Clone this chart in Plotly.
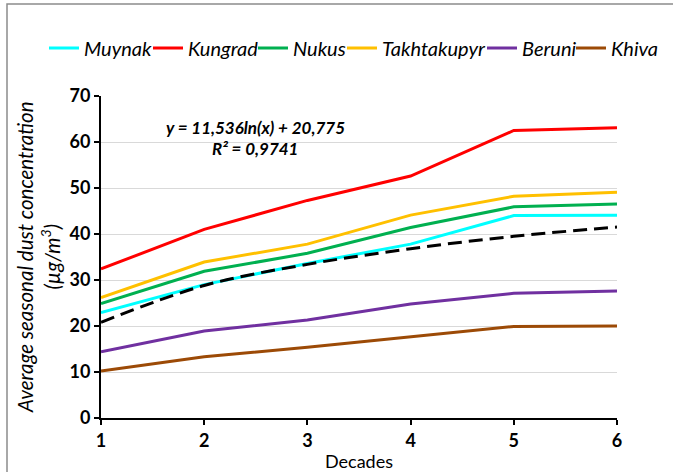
import plotly.graph_objects as go

decades = [1, 2, 3, 4, 5, 6]
muynak = [22.9, 29.0, 33.6, 37.8, 44.0, 44.1]
kungrad = [32.4, 41.0, 47.3, 52.6, 62.5, 63.1]
nukus = [24.9, 31.9, 35.8, 41.4, 45.9, 46.5]
takhtakupyr = [26.2, 33.9, 37.8, 44.1, 48.2, 49.1]
beruni = [14.4, 18.9, 21.3, 24.8, 27.1, 27.6]
khiva = [10.2, 13.3, 15.4, 17.7, 19.9, 20.0]
trend = [20.8, 28.8, 33.4, 36.8, 39.5, 41.5]
y_ticks = [0, 10, 20, 30, 40, 50, 60, 70]

series = [
    ("Muynak", muynak, "#00ffff"),
    ("Kungrad", kungrad, "#ff0000"),
    ("Nukus", nukus, "#00b050"),
    ("Takhtakupyr", takhtakupyr, "#ffc000"),
    ("Beruni", beruni, "#7030a0"),
    ("Khiva", khiva, "#9c4a06"),
]
# pixel x where each legend swatch starts in the reference
legend_px = [54, 158, 263, 352, 492, 581]

FONT = "Lato"
L, R, T, B = 101, 56, 96, 54
W, H = 673, 472
pw, ph = W - L - R, H - T - B

def px_x(p):
    return (p - L) / pw

def px_y(p):
    return (H - B - p) / ph

legend_style = dict(orientation="h", xanchor="left", yanchor="middle",
                    font=dict(family=FONT, size=20, style="italic", color="black"),
                    itemwidth=30, tracegroupgap=0, bgcolor="rgba(0,0,0,0)")

fig = go.Figure()
legends = {}
for i, (name, vals, col) in enumerate(series):
    key = "legend" if i == 0 else f"legend{i + 1}"
    fig.add_trace(go.Scatter(x=decades, y=vals, name=name, mode="lines", legend=key,
                             line=dict(color=col, width=3)))
    legends[key] = dict(x=px_x(legend_px[i] - 10), y=px_y(48), **legend_style)
fig.add_trace(go.Scatter(x=decades, y=trend, mode="lines", showlegend=False,
                         line=dict(color="black", width=3, dash="14px,7px", shape="spline")))

fig.add_shape(type="rect", xref="paper", yref="paper",
              x0=px_x(7), x1=px_x(680), y0=px_y(480), y1=px_y(4),
              line=dict(color="#8c8c8c", width=1.5), layer="below")

fig.add_annotation(x=px_x(255), y=px_y(127), xref="paper", yref="paper",
                   xanchor="center", yanchor="middle",
                   text="y = 11,536ln(x) + 20,775", showarrow=False,
                   font=dict(family=FONT, size=17, color="black", weight="bold", style="italic"))
fig.add_annotation(x=px_x(255), y=px_y(148), xref="paper", yref="paper",
                   xanchor="center", yanchor="middle",
                   text="R² = 0,9741", showarrow=False,
                   font=dict(family=FONT, size=17, color="black", weight="bold", style="italic"))
fig.add_annotation(x=px_x(38), y=px_y(257), xref="paper", yref="paper",
                   xanchor="center", yanchor="middle", textangle=-90,
                   text="Average seasonal dust concentration<br>(µg/m<sup>3</sup>)", showarrow=False,
                   font=dict(family=FONT, size=20.5, color="black", style="italic"))

fig.update_layout(
    width=W, height=H,
    margin=dict(l=L, r=R, t=T, b=B, autoexpand=False),
    plot_bgcolor="white", paper_bgcolor="white",
    font=dict(family=FONT, color="black"),
    xaxis=dict(range=[1, 6], tickvals=decades, showgrid=False, zeroline=False,
               showline=True, linecolor="black", linewidth=2,
               ticks="outside", ticklen=5, tickwidth=2, tickcolor="black",
               tickfont=dict(family=FONT, size=18, weight="bold", color="black"),
               title=dict(text="Decades", font=dict(family=FONT, size=18, color="black"), standoff=8)),
    yaxis=dict(range=[0, 70], tickvals=y_ticks, showgrid=True, gridcolor="#d9d9d9", gridwidth=1,
               zeroline=False, showline=True, linecolor="black", linewidth=2,
               ticks="outside", ticklen=5, tickwidth=2, tickcolor="black",
               tickfont=dict(family=FONT, size=18, weight="bold", color="black")),
    **legends,
)

fig.write_html("out.html")
